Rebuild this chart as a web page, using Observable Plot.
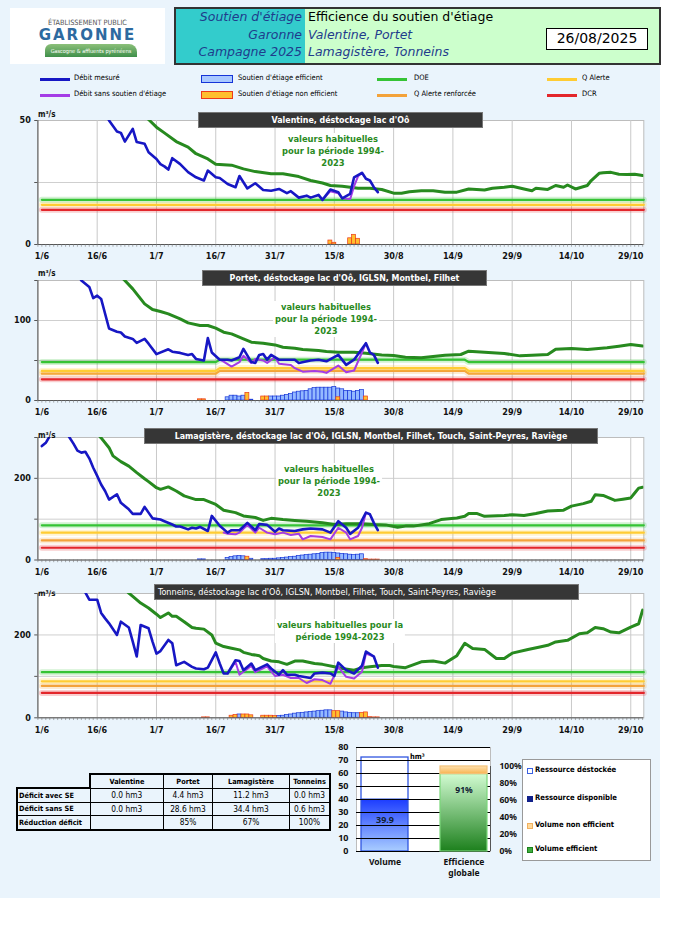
<!DOCTYPE html>
<html><head><meta charset="utf-8">
<script src="https://cdn.jsdelivr.net/npm/d3@7"></script>
<script src="https://cdn.jsdelivr.net/npm/@observablehq/plot@0.6"></script>
<style>
body{margin:0;background:#fff;}
#page{position:relative;width:673px;height:952px;overflow:hidden;font-family:"DejaVu Sans Condensed",sans-serif;}
#bg{position:absolute;left:0;top:0;width:660px;height:898px;background:#eaf4fc;}
.abs{position:absolute;}
.ptitle{position:absolute;background:#363636;color:#fff;font-weight:bold;font-size:8.8px;line-height:15px;height:16px;text-align:center;border:1px solid #777;box-sizing:border-box;white-space:nowrap;overflow:hidden;}
.note{position:absolute;background:#fff;color:#2a8a1e;font-weight:bold;font-size:9.3px;line-height:12px;text-align:center;white-space:nowrap;padding:0 2px;}
.lg{position:absolute;font-size:7.5px;color:#000;white-space:nowrap;}
table.def{position:absolute;border-collapse:collapse;font-size:8.3px;}
table.def td{border:1px solid #000;text-align:center;padding:0;height:12px;white-space:nowrap;}
</style></head><body><div id="page"><div id="bg"></div></div>
<script>
// ---------- DATA (day offsets from 1 June 2025) ----------
const tickDays = [0,15,30,45,60,75,90,105,120,135,150];
const tickLabels = ["1/6","16/6","1/7","16/7","31/7","15/8","30/8","14/9","29/9","14/10","29/10"];

const valMes = [[17,53],[18,50],[20,45.6],[21,45],[22,41.5],[24,46.6],[25,41.3],[27,40.6],[28,37.2],[30,34.5],[31,32.4],[32,31.5],[33,30.2],[34,34.8],[36,32.4],[38,29.2],[40,27.1],[42,25.8],[43,29.8],[45,27.1],[46,26.8],[48,24.4],[50,23.1],[51,27.6],[53,22.6],[55,24.7],[57,22],[59,21.7],[61,22.4],[63,20.7],[64,21.5],[66,18.9],[68,19.7],[69,18.9],[71,20],[72,18],[74,22.2],[76,21.1],[77,18.6],[79,20.4],[80,27.1],[82,28.9],[83,26.5],[84,25.8],[85,23.1],[86,21.1]];
const valSans = [[72,18],[74,21.5],[76,20.6],[77,18.6],[79,18.3],[80,23.5],[81,27.5],[82,28.9]];
const valHab = [[26,54],[28,50.4],[30,47.3],[32,45],[35,41.5],[38,39.3],[40,36.6],[43,34.5],[45,32.4],[49,32],[52,30.5],[55,29.4],[59,28.5],[62,28.5],[66,27.4],[69,25.8],[72,24.8],[74,23.8],[77,23.5],[81,22.7],[84,22.7],[87,22.2],[90,20.7],[92,20.7],[94,21.3],[97,21.7],[100,21.7],[103,21.1],[106,21.1],[109,22.4],[113,22],[115,22.7],[118,23.1],[120,23.5],[123,22.4],[125,21.7],[126,22.7],[129,22.2],[131,23.8],[133,23.1],[134,24],[136,22.4],[139,23.8],[140,25.8],[142,28.7],[143,28.9],[145,29.1],[147,28.3],[149,28.2],[151,28.3],[153,27.8]];
const valEff = [];
const valNeff = [[74,1.6],[75,0.7],[79,2.5],[80,3.9],[81,2.3]];
const valDOE = [[1,18],[153.3,18]], valQA = [[1,16],[153.3,16]], valDCR = [[1,14],[153.3,14]];

const portMes = [[10,158],[11,150],[13,142],[14,128],[15,131],[16,127],[18,90],[20,86],[21,85],[22,80],[24,77],[25,72],[27,77],[28,71],[30,58],[33,64],[34,61],[36,59.5],[38,57],[39,58],[40,52],[42,50],[43,78],[44,60],[46,51],[48,51],[49,50],[51,54],[52,64.5],[54,48],[55,47],[56,57],[57,58],[58,51],[59,57],[61,51],[63,51],[65,51],[66,47],[69,50],[71,51],[73,49],[76,57],[78,44.5],[80,51],[83,71.6],[84,60],[85,57],[86,47]];
const portSans = [[46,51],[47,48.7],[49,42.4],[51,48],[52,56],[54,47],[55,52],[57,50],[58,47],[60,54],[61,46],[64,44.5],[65,40.4],[67,36],[70,37],[72,36],[73,34.5],[76,43.7],[78,35.4],[80,37.5],[82,60],[83,71.6]];
const portHab = [[20,160],[22,150],[24,139.5],[27,120.8],[29,113.7],[31,111.2],[33,108.3],[36,102],[38,97],[41,93.7],[43,93.7],[45,90.4],[47,85.4],[49,83.3],[52,77],[54,72.9],[57,71.6],[60,69.5],[62,66.6],[65,65.4],[67,63.7],[71,62.4],[73,61.2],[76,60.4],[80,60.4],[83,59.1],[87,57],[90,56.2],[93,54.1],[97,53.3],[103,56.6],[107,57.5],[109,61.6],[114,60],[118,58.7],[122,55.8],[125,56.6],[129,57.5],[131,64.1],[135,65],[139,63.7],[144,65.8],[147,67.9],[150,70],[153,68]];
const portEff = [[48,4],[49,6],[50,6],[51,5],[52,6],[54,1],[59,5],[60,5],[61,5],[62,6],[63,7],[64,8],[65,10],[66,11],[67,11.5],[68,12],[69,14],[70,15.5],[71,16],[72,16],[73,16],[74,16],[75,17],[76,15],[77,14],[78,12],[79,12],[80,11],[81,12],[82,13]];
const portNeff = [[41,1.5],[42,1.5],[53,9.5],[57,5],[58,5],[76,4],[83,5]];
const portDOE = [[1,48],[45,48],[46,51],[108,51],[109,48],[153.3,48]];
const portQA = [[1,37],[45,37],[46,40.5],[108,40.5],[109,37],[153.3,37]];
const portQAR = [[1,33.5],[45,33.5],[46,37],[108,37],[109,33.5],[153.3,33.5]];
const portDCR = [[1,26.5],[153.3,26.5]];

const lamMes = [[1,279],[2,287],[4,320],[6,330],[8,300],[9,285],[10,268],[11,263],[12,265],[13,249],[14,226],[15,206],[16,185],[17,169],[18,148],[20,161],[21,140],[23,124],[24,113],[26,113],[27,130],[28,116],[29,102],[31,99],[32,95],[34,87],[35,82],[36,82],[38,75],[39,79],[40,77],[41,81],[43,71],[44,108],[46,84],[48,67],[49,73],[51,73],[53,91],[55,73],[56,88],[58,86],[60,69],[61,77],[62,73],[65,71],[67,75],[69,77],[72,75],[74,67],[76,95],[78,79],[79,64],[81,79],[83,116],[84,112],[85,91],[86,73]];
const lamSans = [[47,67],[48,64.5],[50,62.9],[51,67],[53,85.7],[55,67],[56,79],[58,67],[60,62.9],[62,67],[64,61.2],[66,64.5],[67,50.6],[69,58.8],[72,56.3],[74,50.6],[76,79],[78,67],[79,50.6],[81,58.8],[82,79],[83,116]];
const lamHab = [[15,310],[16,299],[18,275],[19,255],[21,241],[23,230],[25,214],[27,199],[28,192],[30,177],[31,173],[33,179],[35,169],[37,157],[40,148],[42,148],[45,136],[47,122],[50,116],[52,108],[55,104],[57,97],[59,102],[62,99],[65,97],[68,95],[72,91],[75,87],[78,89],[82,89],[85,87],[88,86],[91,80],[93,83],[95,83],[99,89],[102,99],[106,103],[108,107],[109,114],[111,114],[113,107],[118,109],[120,111],[123,109],[126,114],[129,120],[133,122],[135,132],[138,138],[140,144],[141,160],[143,158],[146,146],[148,149],[150,152],[151,164],[152,176],[153,178]];
const lamEff = [[41,1.5],[42,1.5],[48,5],[49,7],[50,9],[51,10],[52,9],[54,3],[57,2],[58,2],[59,3],[60,3],[61,4],[62,5],[63,6],[64,7],[65,8],[66,10],[67,11],[68,12],[69,13],[70,14],[71,15],[72,17],[73,18],[74,18],[75,17],[76,16],[77,15],[78,14],[79,13],[80,12],[81,13],[82,14]];
const lamNeff = [[53,8],[76,5],[83,2],[84,1],[85,1],[86,1]];
const lamDOE = [[1,85],[153.3,85]], lamQA = [[1,67],[153.3,67]], lamQAR = [[1,48],[153.3,48]], lamDCR = [[1,30],[153.3,30]];

const tonMes = [[11,320],[13,285],[15,285],[16,253],[17,240],[18,228],[20,200],[21,232],[23,218],[24,184],[25,148],[26,224],[28,216],[29,184],[30,155],[31,161],[33,188],[34,180],[35,127],[37,135],[39,123],[40,119],[42,117],[43,121],[45,158],[46,131],[47,107],[48,107],[50,139],[51,137],[52,115],[54,131],[55,115],[58,129],[59,119],[61,104],[62,115],[63,104],[65,104],[66,101],[69,96],[70,107],[72,109],[74,107],[75,101],[76,133],[78,115],[80,107],[82,126],[83,160],[85,148],[86,121]];
const tonSans = [[48,107],[50,135],[51,104],[54,125],[55,110],[58,124],[59,112],[60,101],[62,104],[64,96],[66,96],[68,84],[70,93],[72,91],[74,82],[76,123],[78,99],[80,95],[82,111],[83,155],[85,148]];
const tonHab = [[21,320],[23,301],[24,293],[26,277],[28,265],[30,250],[31,242],[33,253],[34,245],[35,245],[37,232],[39,218],[40,216],[42,214],[44,200],[45,180],[47,172],[49,168],[51,164],[52,158],[54,153],[56,150],[57,143],[59,137],[61,135],[63,129],[65,137],[67,137],[70,131],[72,129],[75,123],[77,119],[80,115],[82,121],[84,123],[87,126],[89,126],[90,124],[93,121],[97,135],[100,137],[103,132],[106,150],[108,180],[110,167],[113,165],[116,143],[118,143],[120,156],[124,165],[127,171],[129,175],[131,183],[134,187],[137,203],[139,205],[141,218],[143,215],[145,207],[147,205],[150,219],[152,227],[153,260]];
const tonEff = [[51,8],[61,4],[62,5],[63,7],[64,8],[65,10],[66,11],[67,12],[68,13],[69,14],[70,15],[71,16],[72,17],[73,18],[74,18],[77,15],[78,13],[79,12],[80,11],[81,11]];
const tonNeff = [[42,1],[43,1],[49,5],[50,7],[52,8],[53,8],[54,6],[57,5],[58,5],[59,5],[60,4],[75,16],[76,16],[82,12],[83,13],[84,1.5],[85,1],[86,1]];
const tonDOE = [[1,110],[153.3,110]], tonQA = [[1,88],[153.3,88]], tonQAR = [[1,77],[153.3,77]], tonDCR = [[1,60],[153.3,60]];

const tableCols = ["Valentine","Portet","Lamagistère","Tonneins"];
const tableRows = ["Déficit avec SE","Déficit sans SE","Réduction déficit"];
const deficitAvec = ["0.0 hm3","4.4 hm3","11.2 hm3","0.0 hm3"];
const deficitSans = ["0.0 hm3","28.6 hm3","34.4 hm3","0.6 hm3"];
const reduction = ["","85%","67%","100%"];

const volCats = ["Volume","Efficience globale"];
const volDisponible = 39.9, volDestocke = 32.4;
const effPct = 91, nonEffPct = 9;

// ---------- helpers ----------
const FONT = '"DejaVu Sans Condensed",sans-serif';
const page = document.getElementById("page");
const t0 = Date.UTC(2025,5,1);
const D = d => new Date(t0 + d*864e5);
const P = arr => arr.map(([d,v]) => ({date: D(d), v}));
function addDiv(cls, css, html){const e=document.createElement("div");if(cls)e.className=cls;e.style.cssText=css;e.innerHTML=html;page.appendChild(e);return e;}

const C = {mes:"#1717c4", sans:"#a43ce6", hab:"#278a1f", doe:"#35c335", qa:"#ffcc33", qar:"#f3a23a", dcr:"#e3262b",
  effFill:"#94b9ff", effStroke:"#1534d8", neffFill:"#ffbf2e", neffStroke:"#ec3a1a"};

function panel(cfg){
  const mt = 20, mb = 24, H = cfg.bottom - cfg.top;
  const thr = (arr,color) => arr ? [
    Plot.line(P(arr),{x:"date",y:"v",stroke:color,strokeWidth:6,strokeOpacity:0.22}),
    Plot.line(P(arr),{x:"date",y:"v",stroke:color,strokeWidth:2.2})] : [];
  const bars = (arr,fill,stroke) => Plot.rect(arr,{x1:d=>D(d[0]-0.5),x2:d=>D(d[0]+0.5),y1:0,y2:d=>d[1],fill,stroke,strokeWidth:0.7});
  const lbl = {fontSize:9,fontWeight:"bold",fill:"#111"};
  const svg = Plot.plot({
    width:673, height:H+mt+mb, marginLeft:37.4, marginRight:29.7, marginTop:mt, marginBottom:mb,
    x:{type:"utc", domain:[D(0),D(153.3)], axis:null},
    y:{domain:[0,cfg.ymax], axis:null},
    style:{background:"transparent", overflow:"visible", fontFamily:FONT},
    marks:[
      Plot.frame({fill:"white", stroke:"#bdbdbd"}),
      Plot.ruleY(cfg.grid,{stroke:"#cfcfcf"}),
      Plot.ruleX(tickDays.slice(1),{x:d=>D(d),stroke:"#c9c9c9"}),
      ...thr(cfg.dcr,C.dcr), ...thr(cfg.qar,C.qar), ...thr(cfg.qa,C.qa), ...thr(cfg.doe,C.doe),
      bars(cfg.eff,C.effFill,C.effStroke),
      bars(cfg.neff,C.neffFill,C.neffStroke),
      Plot.line(P(cfg.hab),{x:"date",y:"v",stroke:C.hab,strokeWidth:3,clip:true}),
      Plot.line(P(cfg.sans),{x:"date",y:"v",stroke:C.sans,strokeWidth:2,clip:true}),
      Plot.line(P(cfg.mes),{x:"date",y:"v",stroke:C.mes,strokeWidth:2.6,clip:true}),
      Plot.ruleX([D(0)],{stroke:"#555"}),
      Plot.ruleY([0],{stroke:"#555"}),
      Plot.ruleX(d3.range(0,154),{x:d=>D(d),y1:0,y2:-cfg.ymax*0.022,stroke:"#777",strokeWidth:0.6}),
      Plot.ruleY(cfg.yticks,{x1:D(0),x2:D(-0.8),y:d=>d,stroke:"#555"}),
      Plot.text(tickDays.slice(0,1),{x:d=>D(d),y:0,text:(d,i)=>tickLabels[0],dy:12,dx:4,...lbl}),
      Plot.text(tickDays.slice(1),{x:d=>D(d),y:0,text:(d,i)=>tickLabels[i+1],dy:12,...lbl}),
      Plot.text(cfg.ylabels,{x:D(0),y:d=>d,text:d=>String(d),textAnchor:"end",dx:-7,...lbl}),
      Plot.text(["m³/s"],{frameAnchor:"top-left",textAnchor:"start",dy:cfg.unitDy,dx:0,fontSize:8,fontWeight:"bold",fill:"#111"})
    ]
  });
  svg.style.position="absolute"; svg.style.left="0px"; svg.style.top=(cfg.top-mt)+"px";
  page.appendChild(svg);
  addDiv("ptitle",`left:${cfg.tb[0]}px;top:${cfg.tb[1]}px;width:${cfg.tb[2]}px;text-align:${cfg.tAlign||"center"};padding-left:${cfg.tAlign?3:0}px;${cfg.tAlign?"font-weight:normal;font-size:9px;":""}`, cfg.title);
  addDiv("note",`left:${cfg.note[0]}px;top:${cfg.note[1]}px;transform:translateX(-50%);`, cfg.noteText);
}

panel({top:120.3,bottom:244.3,ymax:50,grid:[25],yticks:[0,25,50],ylabels:[0,50],unitDy:-9,
  mes:valMes,sans:valSans,hab:valHab,eff:valEff,neff:valNeff,doe:valDOE,qa:valQA,dcr:valDCR,
  title:"Valentine, déstockage lac d'Oô",tb:[198,112,285],note:[333,133],
  noteText:"valeurs habituelles<br>pour la période 1994-<br>2023"});
panel({top:280.3,bottom:400.3,ymax:150,grid:[50,100],yticks:[0,50,100,150],ylabels:[0,100],unitDy:-10,
  mes:portMes,sans:portSans,hab:portHab,eff:portEff,neff:portNeff,doe:portDOE,qa:portQA,qar:portQAR,dcr:portDCR,
  title:"Portet, déstockage lac d'Oô, IGLSN, Montbel, Filhet",tb:[202,270,285],note:[326,301],
  noteText:"valeurs habituelles<br>pour la période 1994-<br>2023"});
panel({top:436.5,bottom:559,ymax:300,grid:[100,200],yticks:[0,100,200,300],ylabels:[0,200],unitDy:-5,
  mes:lamMes,sans:lamSans,hab:lamHab,eff:lamEff,neff:lamNeff,doe:lamDOE,qa:lamQA,qar:lamQAR,dcr:lamDCR,
  title:"Lamagistère, déstockage lac d'Oô, IGLSN, Montbel, Filhet, Touch, Saint-Peyres, Raviège",tb:[144,428,454],note:[329,463],
  noteText:"valeurs habituelles<br>pour la période 1994-<br>2023"});
panel({top:592.7,bottom:717,ymax:300,grid:[100,200],yticks:[0,100,200,300],ylabels:[0,200],unitDy:-3,
  mes:tonMes,sans:tonSans,hab:tonHab,eff:tonEff,neff:tonNeff,doe:tonDOE,qa:tonQA,qar:tonQAR,dcr:tonDCR,
  title:"Tonneins, déstockage lac d'Oô, IGLSN, Montbel, Filhet, Touch, Saint-Peyres, Raviège",tb:[154,584,425],tAlign:"left",note:[340,619],
  noteText:"valeurs habituelles pour la<br>période 1994-2023"});

// ---------- header ----------
addDiv("abs","left:10px;top:8px;width:155px;height:56px;background:#fff;","");
addDiv("abs","left:10px;top:18px;width:155px;text-align:center;font-family:'DejaVu Sans Condensed',sans-serif;font-size:7.3px;color:#555;","ÉTABLISSEMENT PUBLIC");
addDiv("abs","left:10px;top:26px;width:155px;text-align:center;font-family:'DejaVu Sans',sans-serif;font-weight:bold;font-size:15px;color:#2d6aa0;letter-spacing:2px;","GARONNE");
addDiv("abs","left:45px;top:44px;width:92px;height:13px;background:linear-gradient(#8cc07a,#3f8f4a);border-radius:6px 8px 0 0;color:#fff;font-size:5.5px;line-height:15px;text-align:center;","Gascogne &amp; affluents pyrénéens");

addDiv("abs","left:174px;top:7px;width:487px;height:58px;border:2px solid #333;box-sizing:border-box;background:#ccffcc;","");
addDiv("abs","left:176px;top:9px;width:129px;height:54px;background:#33cccc;","");
const hs = "font-family:'DejaVu Sans',sans-serif;font-style:italic;font-size:12.5px;color:#1f3c8c;";
addDiv("abs",`left:176px;top:8px;width:126px;text-align:right;line-height:17.5px;${hs}`,"Soutien d'étiage<br>Garonne<br>Campagne 2025");
addDiv("abs","left:308px;top:8px;font-family:'DejaVu Sans',sans-serif;font-size:12.5px;color:#000;line-height:17.5px;","Efficience du soutien d'étiage");
addDiv("abs",`left:308px;top:25.5px;line-height:17.5px;${hs}`,"Valentine, Portet<br>Lamagistère, Tonneins");
addDiv("abs","left:546px;top:28px;width:102px;height:22px;border:1.5px solid #000;box-sizing:border-box;background:#fff;text-align:center;line-height:19px;font-family:'DejaVu Sans',sans-serif;font-size:14px;","26/08/2025");

// ---------- legend ----------
function lgLine(x,y,color){addDiv("abs",`left:${x}px;top:${y-1.5}px;width:30px;height:3px;background:${color};`,"");}
function lgRect(x,y,fill,stroke){addDiv("abs",`left:${x}px;top:${y-4}px;width:32px;height:8px;background:${fill};border:1px solid ${stroke};box-sizing:border-box;`,"");}
function lgText(x,y,t){addDiv("lg",`left:${x}px;top:${y-6}px;`,t);}
lgLine(40,79,C.mes); lgText(74,79,"Débit mesuré");
lgLine(40,95,C.sans); lgText(74,95,"Débit sans soutien d'étiage");
lgRect(201,79,"#a9c8ff",C.effStroke); lgText(238,79,"Soutien d'étiage efficient");
lgRect(201,95,C.neffFill,C.neffStroke); lgText(238,95,"Soutien d'étiage non efficient");
lgLine(377,79,C.doe); lgText(414,79,"DOE");
lgLine(377,95,C.qar); lgText(414,95,"Q Alerte renforcée");
lgLine(547,79,C.qa); lgText(582,79,"Q Alerte");
lgLine(547,95,C.dcr); lgText(582,95,"DCR");

// ---------- table ----------
const tbl = document.createElement("table"); tbl.className="def";
tbl.style.cssText="left:16px;top:773px;";
const widths=[72,72,48,76,39];
let html="<tr><td style='border:none;width:"+widths[0]+"px'></td>"+tableCols.map((c,i)=>`<td style="width:${widths[i+1]}px;font-weight:bold;font-size:7.3px;border-top:2px solid #000;${i==3?'border-right:2px solid #000;':''}${i==0?'border-left:2px solid #000;':''}">${c}</td>`).join("")+"</tr>";
[deficitAvec,deficitSans,reduction].forEach((row,r)=>{
  html+=`<tr><td style="text-align:left;font-weight:bold;font-size:7.3px;border-left:2px solid #000;${r==0?'border-top:2px solid #000;':''}${r==2?'border-bottom:2px solid #000;':''}padding-left:1px">${tableRows[r]}</td>`+
    row.map((v,i)=>`<td style="${i==3?'border-right:2px solid #000;':''}${r==2?'border-bottom:2px solid #000;':''}">${v}</td>`).join("")+"</tr>";
});
tbl.innerHTML=html; page.appendChild(tbl);
tbl.querySelectorAll("td").forEach(td=>td.style.height="12.5px");

// ---------- bottom bars ----------
const volData = [{cat:"Volume",k:"disp",v:volDisponible},{cat:"Volume",k:"dest",v:volDestocke}];
const effData = [{cat:"Efficience globale",k:"eff",v:effPct},{cat:"Efficience globale",k:"neff",v:nonEffPct}];
const bx = {type:"band",domain:volCats,range:[61,188.2],paddingInner:0.4,paddingOuter:0,axis:null};
const svgV = Plot.plot({
  width:230,height:154,marginLeft:56,marginRight:40,marginTop:10,marginBottom:40,
  x:bx, y:{domain:[0,80],axis:null},
  style:{background:"transparent",overflow:"visible",fontFamily:FONT},
  marks:[
    Plot.frame({fill:"white",stroke:"#bdbdbd"}),
    Plot.barY(volData,{x:"cat",y:"v",fill:d=>d.k==="disp"?"url(#gBlue)":"white",stroke:"#2f55e0",strokeWidth:1.3}),
    Plot.text([volDisponible],{x:()=>"Volume",y:d=>d*0.6,text:d=>d.toFixed(1),fontSize:9,fontWeight:"bold",fill:"#123"}),
    Plot.text(d3.range(0,81,10),{frameAnchor:"left",y:d=>d,text:d=>String(d),textAnchor:"end",dx:-8,fontSize:9,fontWeight:"bold",fill:"#111"}),
    Plot.tickY(d3.range(0,81,10),{y:d=>d,frameAnchor:"left"}),
    Plot.text(["Volume"],{x:d=>d,frameAnchor:"bottom",dy:7,lineAnchor:"top",fontSize:8.5,fontWeight:"bold",fill:"#111"}),
    Plot.text(["Efficience"],{x:()=>"Efficience globale",frameAnchor:"bottom",dy:7,lineAnchor:"top",fontSize:8.5,fontWeight:"bold",fill:"#111"}),
    Plot.text(["globale"],{x:()=>"Efficience globale",frameAnchor:"bottom",dy:18,lineAnchor:"top",fontSize:8.5,fontWeight:"bold",fill:"#111"})
  ]});
svgV.style.cssText="position:absolute;left:300px;top:737px;overflow:visible";
page.appendChild(svgV);
const svgE = Plot.plot({
  width:230,height:154,marginLeft:56,marginRight:40,marginTop:10,marginBottom:40,
  x:bx, y:{domain:[0,122.3],axis:null},
  style:{background:"transparent",overflow:"visible",fontFamily:FONT},
  marks:[
    Plot.barY(effData,{x:"cat",y:"v",fill:d=>d.k==="eff"?"url(#gGreen)":"url(#gOrange)",stroke:d=>d.k==="eff"?"#7ad87a":"#f3c27a",strokeWidth:1.2}),
    Plot.text([effPct],{x:()=>"Efficience globale",y:d=>d*0.79,text:d=>d+"%",fontSize:8.5,fontWeight:"bold",fill:"#123"}),
    Plot.text([0,20,40,60,80,100],{frameAnchor:"right",y:d=>d,text:d=>d+"%",textAnchor:"start",dx:9,fontSize:8.5,fontWeight:"bold",fill:"#111"})
  ]});
svgE.style.cssText="position:absolute;left:300px;top:737px;overflow:visible";
page.appendChild(svgE);
const defs = document.createElementNS("http://www.w3.org/2000/svg","defs");
defs.innerHTML=`<linearGradient id="gBlue" x1="0" y1="0" x2="0" y2="1"><stop offset="0" stop-color="#1c3cff"/><stop offset="1" stop-color="#a9cdff"/></linearGradient>
<linearGradient id="gGreen" x1="0" y1="0" x2="0" y2="1"><stop offset="0" stop-color="#d2fcd2"/><stop offset="1" stop-color="#1d801d"/></linearGradient>
<linearGradient id="gOrange" x1="0" y1="0" x2="0" y2="1"><stop offset="0" stop-color="#ffe2b0"/><stop offset="1" stop-color="#f7b451"/></linearGradient>`;
svgV.insertBefore(defs, svgV.firstChild);
addDiv("abs","left:490px;top:766px;width:1px;height:85px;background:#555;","");
addDiv("abs","left:410px;top:752px;font-size:7.5px;font-weight:bold;","hm³");

addDiv("abs","left:522px;top:759px;width:129px;height:102px;background:#fff;border:1px solid #999;box-sizing:border-box;","");
function bl(y,fill,stroke,t){addDiv("abs",`left:527px;top:${y-3}px;width:6px;height:6px;background:${fill};border:1px solid ${stroke};box-sizing:border-box;`,"");addDiv("lg",`left:535px;top:${y-6}px;font-weight:bold;font-size:7.6px;`,t);}
bl(771,"#fff","#3a60e0","Ressource déstockée");
bl(799,"#10208a","#10208a","Ressource disponible");
bl(826,"#ffd99a","#f0b060","Volume non efficient");
bl(850,"#3fae3f","#1d801d","Volume efficient");
</script></body></html>
